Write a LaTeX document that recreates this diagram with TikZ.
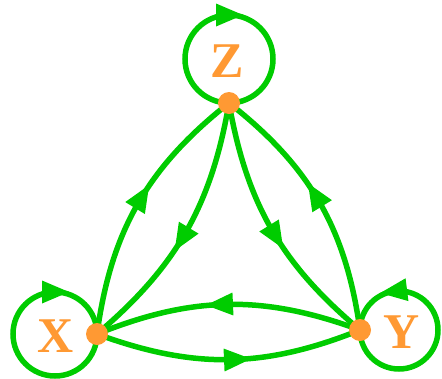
\documentclass[tikz,border=0pt]{standalone}
\usepackage{fontspec}
\setmainfont{Liberation Serif}
\usetikzlibrary{decorations.markings,backgrounds}
\definecolor{gr}{RGB}{0,204,0}
\definecolor{og}{RGB}{255,153,51}
\tikzset{
  x=1pt,y=1pt,
  dot/.style={circle,fill=og,minimum size=22pt,inner sep=0pt},
  lbl/.style={text=og,font=\fontsize{50}{50}\selectfont\bfseries,inner sep=0pt},
  edge/.style={draw=gr,line width=5.5pt},
  midarrow/.style={postaction={decorate,decoration={markings,
     mark=at position #1 with {\fill[gr] (-13pt,-11.5pt) -- (14pt,0pt) -- (-13pt,11.5pt) -- cycle;}}}},
  midarrow/.default=0.53
}
\begin{document}
\begin{tikzpicture}
\useasboundingbox (0,0) rectangle (442,-378);
\node[dot] (Z) at (229,-103) {};
\node[dot] (X) at (97,-334) {};
\node[dot] (Y) at (360,-330) {};
\node[lbl] (Zl) at (227,-61) {Z};
\node[lbl] (Xl) at (56,-336) {X};
\node[lbl] (Yl) at (402,-332) {Y};
\begin{scope}[on background layer]
  % loops
  \draw[edge,midarrow=0.5] (Z.center) arc[start angle=-90,end angle=-450,radius=44pt];
  \draw[edge,midarrow=0.75] (X.center) arc[start angle=0,end angle=-360,radius=42pt];
  \draw[edge,midarrow=0.77] (Y.center) arc[start angle=180,end angle=540,radius=39pt];
  % edges
  \draw[edge,midarrow] (X.center) to[bend left=22] (Z.center);
  \draw[edge,midarrow] (Z.center) to[bend left=20] (X.center);
  \draw[edge,midarrow] (Z.center) to[bend right=20] (Y.center);
  \draw[edge,midarrow] (Y.center) to[bend right=22] (Z.center);
  \draw[edge,midarrow] (Y.center) to[bend right=21] (X.center);
  \draw[edge,midarrow] (X.center) to[bend right=21] (Y.center);
\end{scope}
\end{tikzpicture}
\end{document}
